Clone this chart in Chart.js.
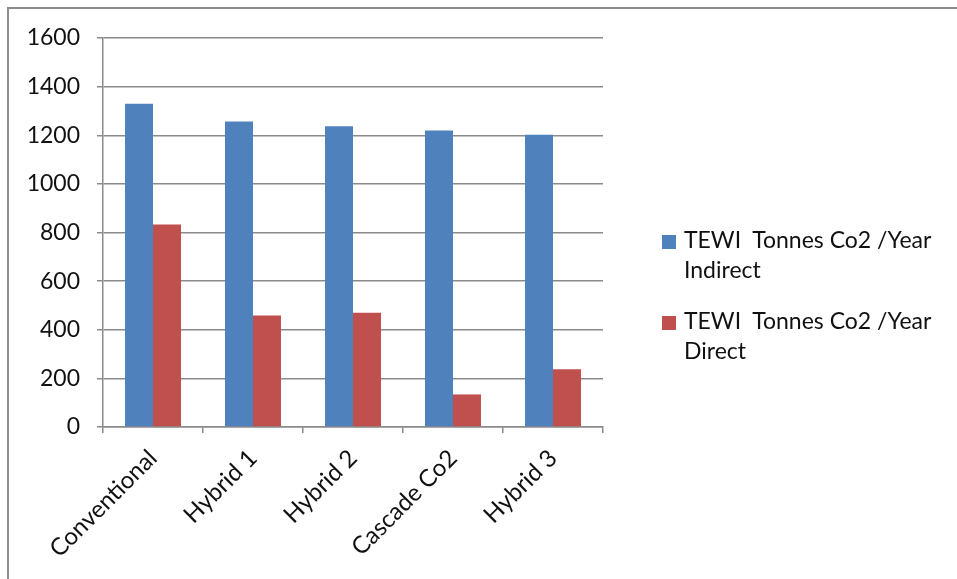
<!DOCTYPE html>
<html>
<head>
<meta charset="utf-8">
<script src="https://cdn.jsdelivr.net/npm/chart.js@4"></script>
<style>
  html,body{margin:0;padding:0;background:#fff;}
  #wrap{position:relative;width:957px;height:579px;overflow:hidden;}
  #frame{position:absolute;left:7px;top:7px;width:960px;height:600px;border-left:2px solid #8c8c8c;border-top:2px solid #8c8c8c;}
  #tewiChart{position:absolute;left:0;top:0;}
  #legend{position:absolute;left:662px;top:224px;font-family:Lato,sans-serif;font-size:23px;color:#111;white-space:pre;}
  .item{position:relative;padding-left:22px;line-height:30px;margin-bottom:21px;}
  .item i{position:absolute;left:0;top:11px;width:14px;height:14px;}
</style>
</head>
<body>
<div id="wrap">
  <div id="frame"></div>
  <canvas id="tewiChart" width="957" height="579"></canvas>
  <div id="legend"></div>
</div>
<script>
const categories = ['Conventional','Hybrid 1','Hybrid 2','Cascade Co2','Hybrid 3'];
const indirect = [1330, 1257, 1237, 1220, 1202];
const direct = [833, 459, 470, 134, 238];
const yTicks = [0,200,400,600,800,1000,1200,1400,1600];

const seriesNames = [['TEWI  Tonnes Co2 /Year','Indirect'],['TEWI  Tonnes Co2 /Year','Direct']];
const seriesColors = ['#4f81bd','#c0504d'];

const font = {family:'Lato',size:23};
const textColor = '#111';
const gridColor = '#8a8a8a';

const chart = new Chart(document.getElementById('tewiChart'),{
  type:'bar',
  data:{
    labels:categories,
    datasets:[
      {label:seriesNames[0].join(' '),data:indirect,backgroundColor:seriesColors[0],
       barPercentage:1,categoryPercentage:0.56},
      {label:seriesNames[1].join(' '),data:direct,backgroundColor:seriesColors[1],
       barPercentage:1,categoryPercentage:0.56}
    ]
  },
  options:{
    responsive:false,animation:false,
    layout:{padding:{left:0,top:38,right:354,bottom:0}},
    plugins:{legend:{display:false},tooltip:{enabled:false}},
    scales:{
      x:{
        grid:{drawOnChartArea:false,color:gridColor,tickLength:6,lineWidth:1.5},
        border:{color:gridColor,width:1.5},
        ticks:{color:textColor,font:{family:'Lato',size:24},minRotation:45,maxRotation:45,padding:11},
        afterFit:s=>{s.height=152;}
      },
      y:{
        min:0,max:1600,
        afterBuildTicks:s=>{s.ticks=yTicks.map(v=>({value:v}));},
        grid:{color:gridColor,tickLength:6,lineWidth:1.5},
        border:{color:gridColor,width:1.5},
        ticks:{color:textColor,font,padding:17,callback:v=>String(v)},
        afterFit:s=>{s.width=103;}
      }
    }
  }
});

// legend with two-line entries
const legend = document.getElementById('legend');
chart.data.datasets.forEach((ds,i)=>{
  const el = document.createElement('div');
  el.className = 'item';
  el.innerHTML = '<i style="background:'+ds.backgroundColor+'"></i>'+seriesNames[i].join('\n');
  legend.appendChild(el);
});
</script>
</body>
</html>
